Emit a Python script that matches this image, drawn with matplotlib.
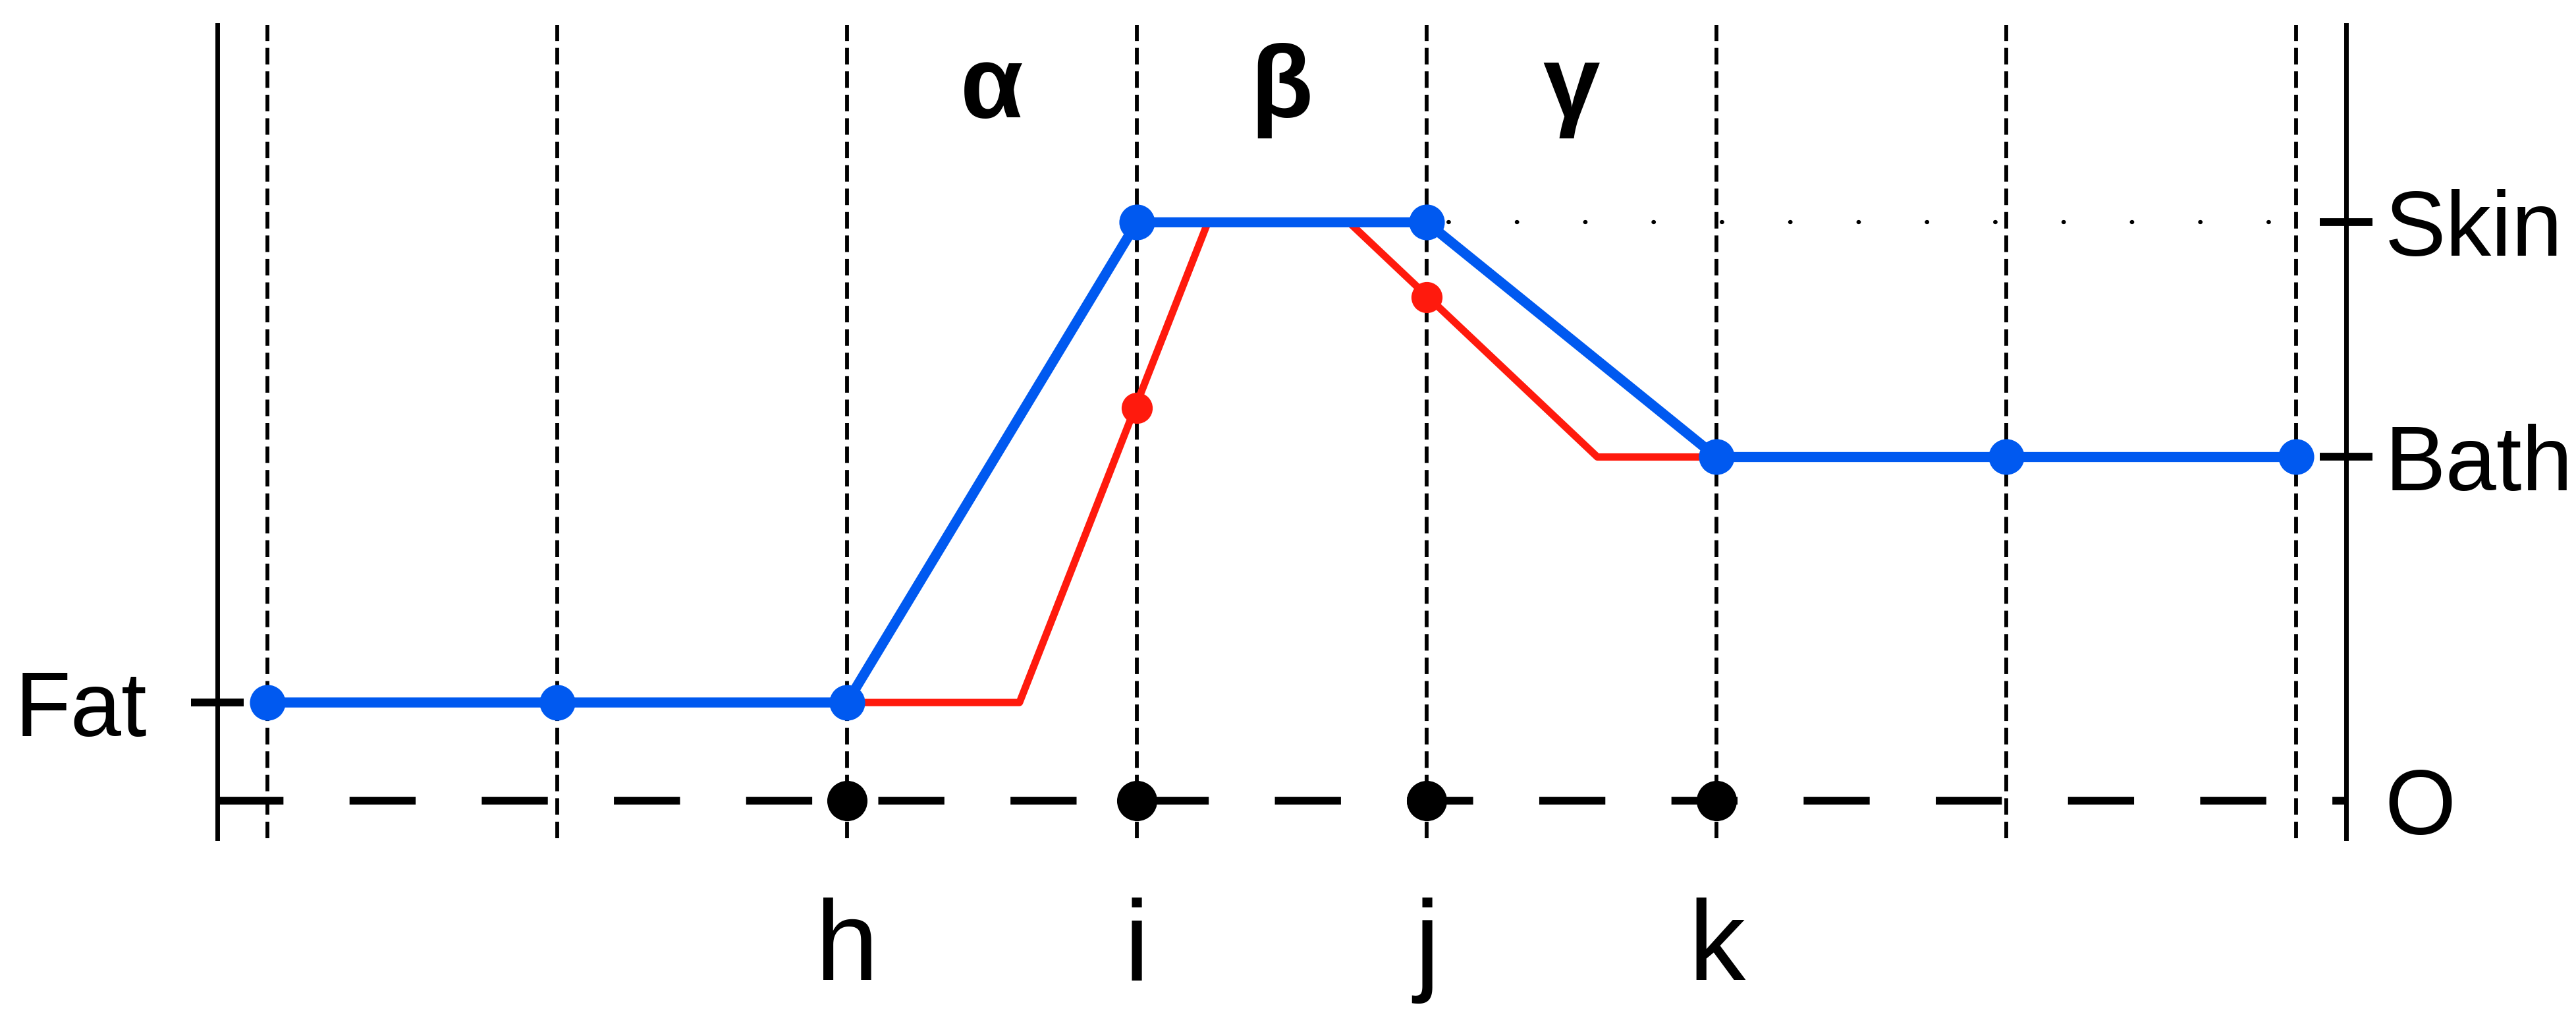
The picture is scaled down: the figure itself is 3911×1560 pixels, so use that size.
import numpy as np
import matplotlib
matplotlib.use("Agg")
import matplotlib.pyplot as plt

plt.rcParams['font.family'] = ['Liberation Sans', 'DejaVu Sans']

# ===== levels (O = 0, Fat = 1) =====
O, FAT, BATH, SKIN = 0.0, 1.0, 3.5, 5.89
right_ticks = [O, BATH, SKIN]
right_labels = ['O', 'Bath', 'Skin']

# ===== grid nodes =====
nodes = np.arange(8)
node_ticks = [2, 3, 4, 5]
node_labels = ['h', 'i', 'j', 'k']

# blue series, one value per node
blue_y = [FAT, FAT, FAT, SKIN, SKIN, BATH, BATH, BATH]

# red series (polyline corners) + its markers
red_x = [0, 2.595, 3.245, 3.732, 4.589, 7]
red_y = [FAT, FAT, SKIN, SKIN, BATH, BATH]
red_mark_x = [3, 4]
red_mark_y = [4.0, 5.13]

# black points on the O line
black_x = [2, 3, 4, 5]

# region labels between nodes
region_labels = ['α', 'β', 'γ']
region_x = [2.5, 3.5, 4.5]

BLUE = '#0059F0'
RED = '#FF1A0D'

x_left, x_right = -0.173, 7.173
y_bottom, y_top = -0.383, 7.90

fig = plt.figure(figsize=(39.12, 15.6), dpi=100)
ax = fig.add_axes([0, 0, 1, 1])
ax.set_xlim(-0.9227, 7.968)
ax.set_ylim(-2.315, 8.154)

# dashed vertical guides
ax.vlines(nodes, y_bottom, y_top, colors='k', linewidth=4.2, linestyles=[(0, (4.3, 1.8))], zorder=1)

# long dashed O line
ax.plot([x_left, x_right], [O, O], color='k', lw=8.5, linestyle=(0, (8.5, 8.5)), zorder=2)

# dotted Skin line
ax.plot([4, 7], [SKIN, SKIN], color='k', lw=4.5, linestyle=(11.3, (0.1, 16.5)),
        dash_capstyle='round', zorder=2)

# series
ax.plot(red_x, red_y, color=RED, lw=8, zorder=3)
ax.plot(red_mark_x, red_mark_y, 'o', color=RED, ms=34, mew=0, zorder=4)
ax.plot(nodes, blue_y, color=BLUE, lw=11, marker='o', ms=39, mew=0, zorder=5)
ax.plot(black_x, [O] * len(black_x), 'o', color='k', ms=44, mew=0, zorder=5)

for lab, x in zip(region_labels, region_x):
    ax.text(x, 6.96, lab, ha='center', va='baseline', fontsize=112, fontweight='bold')

# ===== axes: left spine with Fat tick, bottom node labels =====
for s in ['top', 'right']:
    ax.spines[s].set_visible(False)
ax.spines['left'].set_position(('data', x_left))
ax.spines['left'].set_bounds(y_bottom, y_top)
ax.spines['left'].set_linewidth(5)
ax.spines['bottom'].set_position(('data', O))
ax.spines['bottom'].set_visible(False)

ax.set_yticks([FAT], ['Fat'])
ax.tick_params(axis='y', direction='inout', length=57.6, width=8.5, pad=48, labelsize=100)
ax.set_xticks(node_ticks, node_labels)
ax.tick_params(axis='x', length=0, pad=106, labelsize=124)

# ===== right spine with O / Bath / Skin =====
ax2 = ax.twinx()
ax2.set_ylim(ax.get_ylim())
for s in ['top', 'bottom', 'left']:
    ax2.spines[s].set_visible(False)
ax2.spines['right'].set_position(('data', x_right))
ax2.spines['right'].set_bounds(y_bottom, y_top)
ax2.spines['right'].set_linewidth(5)
ax2.set_yticks(right_ticks, right_labels)
ax2.tick_params(axis='y', direction='inout', length=57.6, width=8.5, pad=13, labelsize=100)
ax2.yaxis.get_major_ticks()[0].tick2line.set_visible(False)

fig.savefig('out.png', dpi=100)
